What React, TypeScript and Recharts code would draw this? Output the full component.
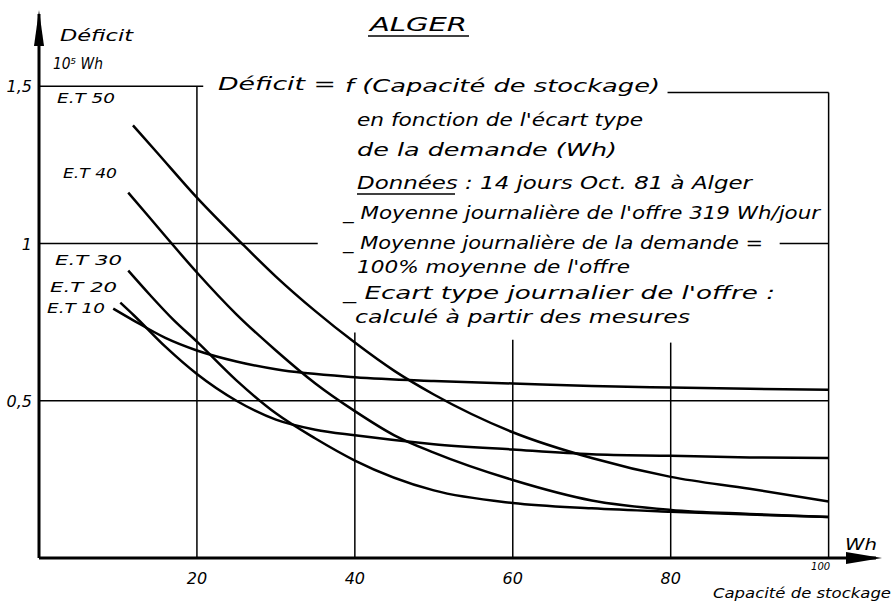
import { Line, LineChart, ReferenceLine, XAxis, YAxis } from "recharts";

// storage capacity (Wh) and deficit (10^5 Wh)
const et10Cap = [9.4, 12, 16, 20, 25, 30, 40, 50, 60, 70, 80, 90, 100];
const et10Def = [0.793, 0.755, 0.7, 0.66, 0.625, 0.6, 0.575, 0.563, 0.555, 0.547, 0.542, 0.538, 0.535];

const et20Cap = [10.3, 12, 16, 20, 25, 30, 35, 40, 50, 60, 70, 80, 90, 100];
const et20Def = [0.812, 0.772, 0.672, 0.585, 0.5, 0.44, 0.408, 0.39, 0.362, 0.345, 0.33, 0.325, 0.32, 0.318];

const et30Cap = [11.3, 14, 17, 20, 25, 30, 35, 40, 50, 60, 70, 80, 90, 100];
const et30Def = [0.914, 0.838, 0.758, 0.688, 0.565, 0.46, 0.38, 0.31, 0.215, 0.175, 0.158, 0.147, 0.138, 0.13];

const et40Cap = [11.3, 14, 16.8, 20, 25, 30, 35, 40, 45, 50, 60, 70, 80, 90, 100];
const et40Def = [1.162, 1.083, 1.0, 0.908, 0.775, 0.66, 0.555, 0.467, 0.39, 0.335, 0.248, 0.183, 0.153, 0.14, 0.13];

const et50Cap = [11.9, 15, 20, 25.7, 30, 35, 40, 45, 50, 60, 70, 80, 90, 100];
const et50Def = [1.376, 1.288, 1.146, 1.0, 0.895, 0.785, 0.685, 0.595, 0.52, 0.4, 0.318, 0.258, 0.22, 0.18];

const xTicks = [20, 40, 60, 80, 100];
const yTicks = [0.5, 1, 1.5];
const yTickLabels = ["0,5", "1", "1,5"];

const SERIES = [
	{ name: "E.T 10", cap: et10Cap, def: et10Def },
	{ name: "E.T 20", cap: et20Cap, def: et20Def },
	{ name: "E.T 30", cap: et30Cap, def: et30Def },
	{ name: "E.T 40", cap: et40Cap, def: et40Def },
	{ name: "E.T 50", cap: et50Cap, def: et50Def }
];

const toPoints = (cap: number[], def: number[]) => cap.map((x, i) => ({ x, y: def[i] }));

const FONT = "'DejaVu Sans', sans-serif";
const INK = "#000";

// partial grid, interrupted by the notes like in the drawing
const GRID_SEGMENTS = [
	[{ x: 0, y: 1.5 }, { x: 20.8, y: 1.5 }],
	[{ x: 79.6, y: 1.48 }, { x: 100, y: 1.48 }],
	[{ x: 0, y: 1 }, { x: 35.3, y: 1 }],
	[{ x: 93.8, y: 1 }, { x: 100, y: 1 }],
	[{ x: 0, y: 0.5 }, { x: 100, y: 0.5 }],
	[{ x: 20, y: 0 }, { x: 20, y: 1.5 }],
	[{ x: 40, y: 0 }, { x: 40, y: 0.717 }],
	[{ x: 60, y: 0 }, { x: 60, y: 0.694 }],
	[{ x: 80, y: 0 }, { x: 80, y: 0.685 }],
	[{ x: 100, y: 0 }, { x: 100, y: 1.48 }]
];

type NoteProps = { x: number; y: number; w: number; size?: number; children: string };

function Note({ x, y, w, size = 17, children }: NoteProps) {
	return (
		<text
			x={x}
			y={y}
			textLength={w}
			lengthAdjust="spacingAndGlyphs"
			fontFamily={FONT}
			fontStyle="italic"
			fontSize={size}
			fill={INK}
		>
			{children}
		</text>
	);
}

const XTick = ({ x, y, payload }: any) => {
	if (payload.value === 100) {
		return (
			<text x={x - 8} y={y + 4} textAnchor="middle" fontFamily={FONT} fontStyle="italic" fontSize={10} fill={INK}>
				100
			</text>
		);
	}
	return (
		<text x={x} y={y + 18} textAnchor="middle" fontFamily={FONT} fontStyle="italic" fontSize={16} fill={INK}>
			{payload.value}
		</text>
	);
};

const YTick = ({ x, y, payload }: any) => (
	<text x={x + 1} y={y + 6} textAnchor="end" fontFamily={FONT} fontStyle="italic" fontSize={16} fill={INK}>
		{yTickLabels[yTicks.indexOf(payload.value)]}
	</text>
);

export default function App() {
	return (
		<div style={{ position: "absolute", left: 0, top: 0, width: 893, height: 606, background: "#fff" }}>
			<LineChart width={893} height={606} margin={{ top: 14, right: 17, left: 9, bottom: 18 }}>
				<XAxis
					type="number"
					dataKey="x"
					domain={[0, 106]}
					ticks={xTicks}
					tick={<XTick />}
					tickLine={false}
					axisLine={{ stroke: INK, strokeWidth: 3 }}
					height={30}
					allowDataOverflow
				/>
				<YAxis
					type="number"
					dataKey="y"
					domain={[0, 1.73]}
					ticks={yTicks}
					tick={<YTick />}
					tickLine={false}
					axisLine={{ stroke: INK, strokeWidth: 3 }}
					width={30}
					allowDataOverflow
				/>
				{GRID_SEGMENTS.map((seg, i) => (
					<ReferenceLine key={`g-${i}`} segment={seg} stroke={INK} strokeWidth={1.5} />
				))}
				{SERIES.map((s) => (
					<Line
						key={s.name}
						name={s.name}
						data={toPoints(s.cap, s.def)}
						dataKey="y"
						type="monotone"
						stroke={INK}
						strokeWidth={2.5}
						dot={false}
						isAnimationActive={false}
					/>
				))}
			</LineChart>
			<svg width={893} height={606} style={{ position: "absolute", left: 0, top: 0, pointerEvents: "none" }}>
				{/* axis arrows */}
				<polygon points="39,10 34,46 44,46" fill={INK} />
				<polygon points="882,558 846,552 846,564" fill={INK} />

				<Note x={370} y={31} w={97} size={20}>ALGER</Note>
				<line x1={368} y1={36} x2={469} y2={36} stroke={INK} strokeWidth={1.5} />

				<Note x={60} y={41} w={73} size={16}>Déficit</Note>
				<Note x={53} y={69} w={50} size={15}>10⁵ Wh</Note>

				<Note x={218} y={90} w={118}>Déficit =</Note>
				<Note x={345} y={92} w={315}>f (Capacité de stockage)</Note>
				<Note x={357} y={126} w={286}>en fonction de l'écart type</Note>
				<Note x={357} y={156} w={260}>de la demande (Wh)</Note>
				<Note x={357} y={189} w={395}>Données : 14 jours Oct. 81 à Alger</Note>
				<line x1={357} y1={194} x2={455} y2={194} stroke={INK} strokeWidth={1.5} />
				<Note x={343} y={219} w={477}>_ Moyenne journalière de l'offre 319 Wh/jour</Note>
				<Note x={343} y={249} w={420}>_ Moyenne journalière de la demande =</Note>
				<Note x={357} y={273} w={273}>100% moyenne de l'offre</Note>
				<Note x={343} y={299} w={432}>_ Ecart type journalier de l'offre :</Note>
				<Note x={355} y={323} w={335}>calculé à partir des mesures</Note>

				<Note x={57} y={103} w={58} size={14}>E.T 50</Note>
				<Note x={63} y={178} w={54} size={14}>E.T 40</Note>
				<Note x={55} y={265} w={67} size={14}>E.T 30</Note>
				<Note x={50} y={292} w={67} size={14}>E.T 20</Note>
				<Note x={47} y={313} w={58} size={14}>E.T 10</Note>

				<Note x={845} y={550} w={32} size={16}>Wh</Note>
				<Note x={713} y={598} w={178} size={14}>Capacité de stockage</Note>
			</svg>
		</div>
	);
}
